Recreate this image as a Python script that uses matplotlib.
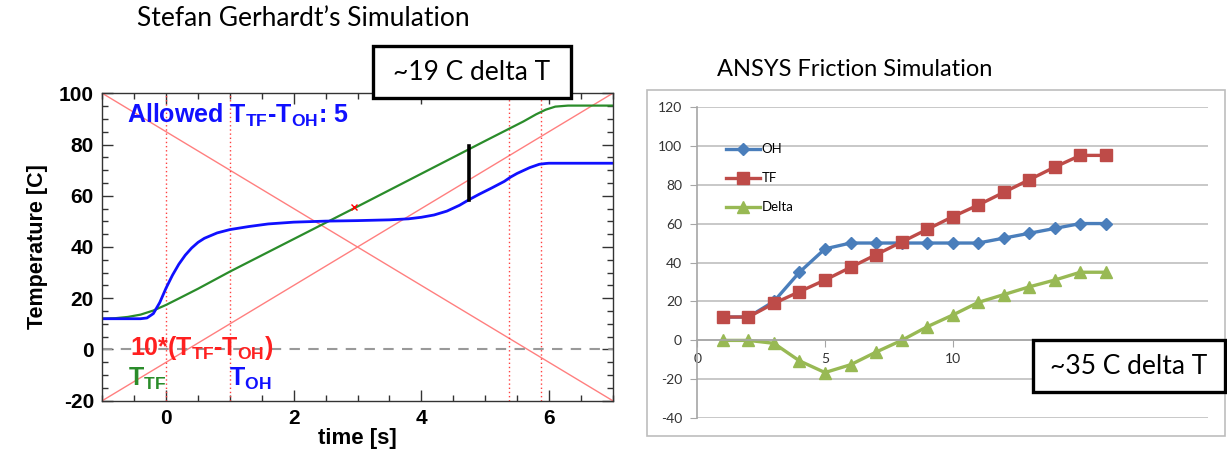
import matplotlib
matplotlib.use('Agg')
import matplotlib.pyplot as plt
from matplotlib.patches import Rectangle

plt.rcParams['mathtext.fontset'] = 'custom'
plt.rcParams['mathtext.rm'] = 'Liberation Sans:bold'
plt.rcParams['mathtext.bf'] = 'Liberation Sans:bold'
plt.rcParams['mathtext.default'] = 'rm'
plt.rcParams['axes.unicode_minus'] = False

# --- left panel: simulated temperatures vs time ---
t_tf = [-1.0, -0.8, -0.6, -0.4, -0.2, 0.0, 0.2, 0.5, 1.0, 2.0, 3.0, 4.0,
        5.0, 5.6, 5.8, 5.95, 6.1, 6.3, 7.0]
temp_tf = [12.0, 12.2, 12.7, 13.6, 15.2, 17.4, 19.9, 23.7, 30.4, 43.1, 55.8,
           68.6, 81.4, 89.0, 91.8, 93.6, 94.8, 95.2, 95.2]

t_oh = [-1.0, -0.4, -0.3, -0.2, -0.1, 0.0, 0.1, 0.2, 0.3, 0.4, 0.5, 0.6,
        0.8, 1.0, 1.3, 1.6, 2.0, 2.5, 3.0, 3.5, 3.8, 4.0, 4.2, 4.4, 4.6,
        4.75, 4.9, 5.1, 5.3, 5.4, 5.5, 5.7, 5.85, 5.95, 6.0, 7.0]
temp_oh = [12.0, 12.0, 12.3, 14.0, 18.3, 24.0, 29.0, 33.3, 36.8, 39.6, 41.8,
           43.4, 45.5, 46.8, 48.0, 49.0, 49.7, 50.1, 50.3, 50.6, 51.0, 51.6,
           52.5, 54.0, 56.3, 58.5, 60.5, 63.0, 65.6, 67.3, 68.7, 71.0, 72.3,
           72.6, 72.7, 72.7]

diag_t = [-1.0, 7.0]
diag_down = [100, -20]
diag_up = [-20, 100]
phase_times = [0.0, 1.0, 5.38, 5.87]
mark_t, mark_temp = 2.95, 55.5
gap_t, gap_temps = 4.75, [58.5, 79.5]

# --- right panel: ANSYS friction results ---
step = list(range(1, 17))
oh = [12, 12, 20, 35, 47, 50, 50, 50, 50, 50, 50, 52.5, 55, 57.5, 60, 60]
tf = [12, 12, 19, 25, 31, 37.5, 44, 50.5, 57, 63.5, 69.5, 76, 82.5, 89, 95, 95]
delta = [0, 0, -1.5, -10.5, -16.5, -12.5, -6, 0, 7, 13, 19.5, 23.5, 27.5, 31, 35, 35]
step_ticks = [0, 5, 10, 15, 20]
step_labels = ['0', '5', '10', '', '']   # 15 and 20 sit under the note box

W, H = 1227, 459
fig = plt.figure(figsize=(W / 100, H / 100), dpi=100)


def fx(px):
    return px / W


def fy(py):
    return 1 - py / H


ax1 = fig.add_axes([fx(102.3), fy(400.7), fx(510.4), 307.4 / H])
ax1.plot(diag_t, diag_down, color='#ff7f7f', lw=1.0)
ax1.plot(diag_t, diag_up, color='#ff7f7f', lw=1.0)
for x in phase_times:
    ax1.axvline(x, color='#ff4040', lw=1.0, ls=(0, (1, 2)))
ax1.axhline(0, color='#999999', lw=1.5, ls=(0, (5, 4)))
ax1.plot(t_tf, temp_tf, color='#2a8c2a', lw=1.6)
ax1.plot(t_oh, temp_oh, color='#1010ff', lw=2.0)
ax1.plot([mark_t], [mark_temp], marker='x', color='red', ms=5, mew=1)
ax1.plot([gap_t, gap_t], gap_temps, color='black', lw=2.6)

ax1.set_xlim(-1, 7)
ax1.set_ylim(-20, 100)
ax1.set_xticks([0, 2, 4, 6])
ax1.set_xticks([x * 0.5 for x in range(-2, 15)], minor=True)
ax1.set_yticks(range(-20, 101, 20))
ax1.set_yticks(range(-20, 101, 5), minor=True)
ax1.tick_params(which='both', direction='in', top=True, right=True,
                width=1, color='#333333')
ax1.tick_params(which='major', length=8, labelsize=15, pad=6)
ax1.tick_params(which='minor', length=4)
for lab in ax1.get_xticklabels() + ax1.get_yticklabels():
    lab.set_fontweight('bold')
    lab.set_family('Liberation Sans')
for sp in ax1.spines.values():
    sp.set_color('#333333')
    sp.set_linewidth(1.0)
ax1.set_xlabel('time [s]', fontsize=16, fontweight='bold',
               family='Liberation Sans', labelpad=0)
ax1.set_ylabel('Temperature [C]', fontsize=15.5, fontweight='bold',
               family='Liberation Sans', labelpad=8)

lbl = dict(fontweight='bold', family='Liberation Sans')
ax1.text(-0.62, 91.5, r'Allowed T$_{TF}$-T$_{OH}$: 5', color='#1010ff',
         fontsize=18, va='center', **lbl)
ax1.text(-0.57, 0.5, r'10*(T$_{TF}$-T$_{OH}$)', color='#ff2020',
         fontsize=18, va='center', **lbl)
ax1.text(-0.6, -11.5, r'T$_{TF}$', color='#2a8c2a', fontsize=18,
         va='center', **lbl)
ax1.text(0.98, -11.5, r'T$_{OH}$', color='#1010ff', fontsize=18,
         va='center', **lbl)

title_font = 'Lato'
fig.text(fx(137), fy(26), 'Stefan Gerhardt\u2019s Simulation', fontsize=19,
         family=title_font, va='baseline')
fig.text(fx(717), fy(76), 'ANSYS Friction Simulation', fontsize=17,
         family=title_font, va='baseline')

# chart frame on the right
fig.patches.append(Rectangle((fx(647), fy(436)), fx(1225 - 647), (436 - 90) / H,
                             transform=fig.transFigure, fill=False,
                             edgecolor='#bdbdbd', lw=1.2, zorder=1))

ax2 = fig.add_axes([fx(697.3), fy(418.3), fx(1208 - 697.3), (418.3 - 106.7) / H])
ax2.plot(step, oh, color='#4a7ebb', lw=2.4, marker='D', ms=6, label='OH')
ax2.plot(step, tf, color='#be4b48', lw=2.4, marker='s', ms=8, label='TF')
ax2.plot(step, delta, color='#98b954', lw=2.4, marker='^', ms=8, label='Delta')
ax2.set_xlim(0, 20)
ax2.set_ylim(-40, 120)
ax2.set_yticks(range(-40, 121, 20))
ax2.set_xticks(step_ticks)
ax2.set_xticklabels(step_labels)
ax2.grid(axis='y', color='#bfbfbf', lw=1.2)
ax2.set_axisbelow(True)
ax2.spines['top'].set_visible(False)
ax2.spines['right'].set_visible(False)
ax2.spines['bottom'].set_position(('data', 0))
ax2.spines['bottom'].set_color('#a6a6a6')
ax2.spines['left'].set_color('#a6a6a6')
ax2.spines['bottom'].set_linewidth(1.2)
ax2.spines['left'].set_linewidth(1.2)
ax2.tick_params(direction='out', length=5, color='#a6a6a6', labelsize=10,
                labelcolor='#333333')
ax2.tick_params(axis='y', pad=6)
ax2.tick_params(axis='x', pad=4)
for lab in ax2.get_xticklabels() + ax2.get_yticklabels():
    lab.set_family(title_font)
leg = ax2.legend(loc='upper left', bbox_to_anchor=(0.056, 0.883), frameon=False,
                 prop={'family': title_font, 'size': 9.5},
                 handlelength=2.6, handletextpad=0.1, labelspacing=1.3,
                 borderpad=0, borderaxespad=0)

# annotation boxes
for (x0, y0, x1, y1, s) in [(372.7, 46, 570.7, 98.3, '~19 C delta T'),
                            (1032.7, 340, 1225, 392.3, '~35 C delta T')]:
    fig.patches.append(Rectangle((fx(x0), fy(y1)), fx(x1 - x0), (y1 - y0) / H,
                                 transform=fig.transFigure, facecolor='white',
                                 edgecolor='black', lw=2.4, zorder=5))
    fig.text(fx((x0 + x1) / 2), fy((y0 + y1) / 2), s, fontsize=19,
             family=title_font, ha='center', va='center', zorder=6)

fig.savefig('out.png', dpi=100)
